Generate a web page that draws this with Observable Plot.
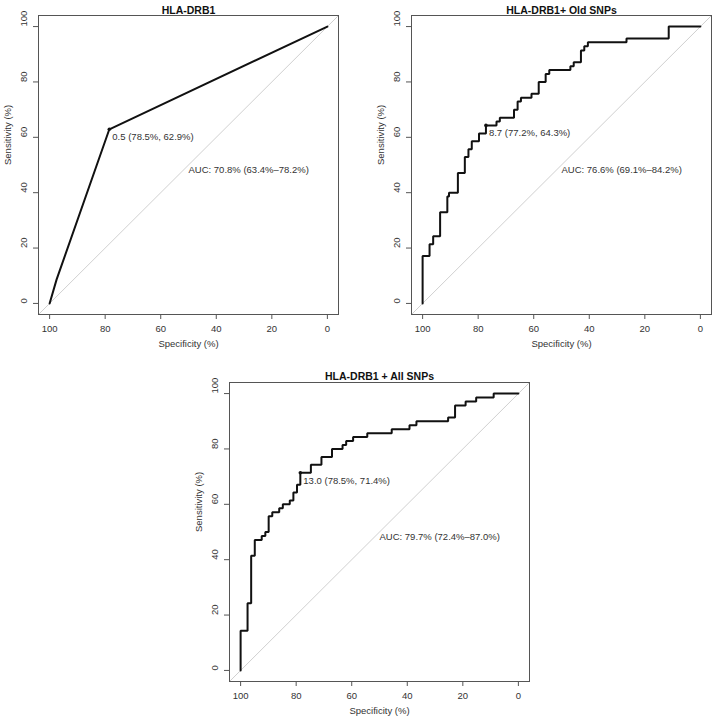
<!DOCTYPE html>
<html><head><meta charset="utf-8">
<script src="https://cdn.jsdelivr.net/npm/d3@7"></script>
<script src="https://cdn.jsdelivr.net/npm/@observablehq/plot@0.6"></script>
<style>
body{margin:0;background:#fff;}
#wrap{position:relative;width:715px;height:720px;background:#fff;overflow:hidden;}
.panel{position:absolute;}
</style></head><body><div id="wrap"></div>
<script>
// ---- data ----
const titles = ["HLA-DRB1", "HLA-DRB1+ Old SNPs", "HLA-DRB1 + All SNPs"];

const spec1 = [100, 97.5, 78.5, 0];
const sens1 = [0, 8.6, 62.9, 100];

const spec2 = [100,100,97.5,97.5,96.2,96.2,93.7,93.7,91.1,91.1,90.5,90.5,87.3,87.3,84.8,84.8,83.5,83.5,82.3,82.3,79.7,79.7,77.2,77.2,73.4,73.4,72.2,72.2,67.1,67.1,65.8,65.8,64.6,64.6,60.8,60.8,58.2,58.2,55.7,55.7,54.4,54.4,46.8,46.8,45.6,45.6,43.0,43.0,41.8,41.8,40.5,40.5,26.6,26.6,11.4,11.4,0];
const sens2 = [0,17.1,17.1,21.4,21.4,24.3,24.3,32.9,32.9,38.6,38.6,40.0,40.0,47.1,47.1,52.9,52.9,55.7,55.7,58.6,58.6,61.4,61.4,64.3,64.3,65.7,65.7,67.1,67.1,70.0,70.0,72.9,72.9,74.3,74.3,75.7,75.7,80.0,80.0,82.9,82.9,84.3,84.3,85.7,85.7,87.1,87.1,91.4,91.4,92.9,92.9,94.3,94.3,95.7,95.7,100,100];

const spec3 = [100,100,97.5,97.5,96.2,96.2,94.9,94.9,92.4,92.4,91.1,91.1,89.9,89.9,88.6,88.6,86.1,86.1,84.8,84.8,82.3,82.3,81.0,81.0,79.7,79.7,78.5,78.5,74.7,74.7,70.9,70.9,67.1,67.1,63.3,63.3,62.0,62.0,59.5,59.5,54.4,54.4,45.6,45.6,39.2,39.2,36.7,36.7,25.3,25.3,22.8,22.8,19.0,19.0,15.2,15.2,8.9,8.9,0];
const sens3 = [0,14.3,14.3,24.3,24.3,41.4,41.4,47.1,47.1,48.6,48.6,50.0,50.0,55.7,55.7,57.1,57.1,58.6,58.6,60.0,60.0,61.4,61.4,64.3,64.3,67.1,67.1,71.4,71.4,74.3,74.3,77.1,77.1,80.0,80.0,81.4,81.4,82.9,82.9,84.3,84.3,85.7,85.7,87.1,87.1,88.6,88.6,90.0,90.0,91.4,91.4,95.7,95.7,97.1,97.1,98.6,98.6,100,100];

const thresholdSpec = [78.5, 77.2, 78.5];
const thresholdSens = [62.9, 64.3, 71.4];
const thresholdLabels = ["0.5 (78.5%, 62.9%)", "8.7 (77.2%, 64.3%)", "13.0 (78.5%, 71.4%)"];
const aucLabels = ["AUC: 70.8% (63.4%–78.2%)", "AUC: 76.6% (69.1%–84.2%)", "AUC: 79.7% (72.4%–87.0%)"];
const axisTicks = [0, 20, 40, 60, 80, 100];
const xTitle = "Specificity (%)";
const yTitle = "Sensitivity (%)";

// ---- layout ----
const panels = [
  {spec: spec1, sens: sens1, left: 0, top: 0, width: 357, height: 355, m: [15, 19, 41, 38], tdy: -9},
  {spec: spec2, sens: sens2, left: 358, top: 0, width: 357, height: 355, m: [15, 4, 41, 53], tdy: -9},
  {spec: spec3, sens: sens3, left: 180, top: 360, width: 360, height: 360, m: [22, 11, 39, 49], tdy: -9.5}
];
const xDomain = [104, -4];
const yDomain = [-4, 104];
const txt = "#333";
const font = "'Liberation Sans', Arial, Helvetica, sans-serif";

const wrap = document.getElementById("wrap");
panels.forEach((p, i) => {
  const curve = p.spec.map((s, j) => ({spec: s, sens: p.sens[j]}));
  const thr = [{spec: thresholdSpec[i], sens: thresholdSens[i], label: thresholdLabels[i]}];
  const chart = Plot.plot({
    width: p.width,
    height: p.height,
    marginTop: p.m[0], marginRight: p.m[1], marginBottom: p.m[2], marginLeft: p.m[3],
    style: {fontFamily: font, background: "transparent", overflow: "visible"},
    x: {domain: xDomain},
    y: {domain: yDomain},
    marks: [
      Plot.link([0], {x1: () => xDomain[0], y1: () => yDomain[0], x2: () => xDomain[1], y2: () => yDomain[1], stroke: "#d0d0d0", strokeWidth: 1}),
      Plot.line(curve, {x: "spec", y: "sens", stroke: "#111", strokeWidth: 2, strokeLinejoin: "miter"}),
      Plot.dot(thr, {x: "spec", y: "sens", r: 1.8, fill: "#111", stroke: null}),
      Plot.text(thr, {x: "spec", y: "sens", text: "label", textAnchor: "start", dx: 3, dy: 8, fontSize: 9.5, fill: txt}),
      Plot.text([aucLabels[i]], {x: () => 50, y: () => 50, text: d => d, textAnchor: "start", dy: 5, fontSize: 9.5, fill: txt}),
      Plot.frame({stroke: "#555"}),
      Plot.axisX(axisTicks, {anchor: "bottom", tickSize: 5, tickFormat: () => "", stroke: "#555", label: null}),
      Plot.axisY(axisTicks, {anchor: "left", tickSize: 5, tickFormat: () => "", stroke: "#555", label: null}),
      Plot.text(axisTicks, {x: d => d, frameAnchor: "bottom", dy: 17, text: d => String(d), fontSize: 9.5, fill: txt}),
      Plot.text(axisTicks, {y: d => d, frameAnchor: "left", dx: -15, rotate: -90, text: d => String(d), fontSize: 9.5, fill: txt}),
      Plot.text([xTitle], {frameAnchor: "bottom", dy: 32, text: d => d, fontSize: 9.5, fill: txt}),
      Plot.text([yTitle], {frameAnchor: "left", dx: -31, rotate: -90, text: d => d, fontSize: 9.5, fill: txt}),
      Plot.text([titles[i]], {frameAnchor: "top", dy: p.tdy, text: d => d, fontSize: 10.5, fontWeight: "bold", fill: "#111"})
    ]
  });
  const div = document.createElement("div");
  div.className = "panel";
  div.style.left = p.left + "px";
  div.style.top = p.top + "px";
  div.appendChild(chart);
  wrap.appendChild(div);
});
</script>
</body></html>
